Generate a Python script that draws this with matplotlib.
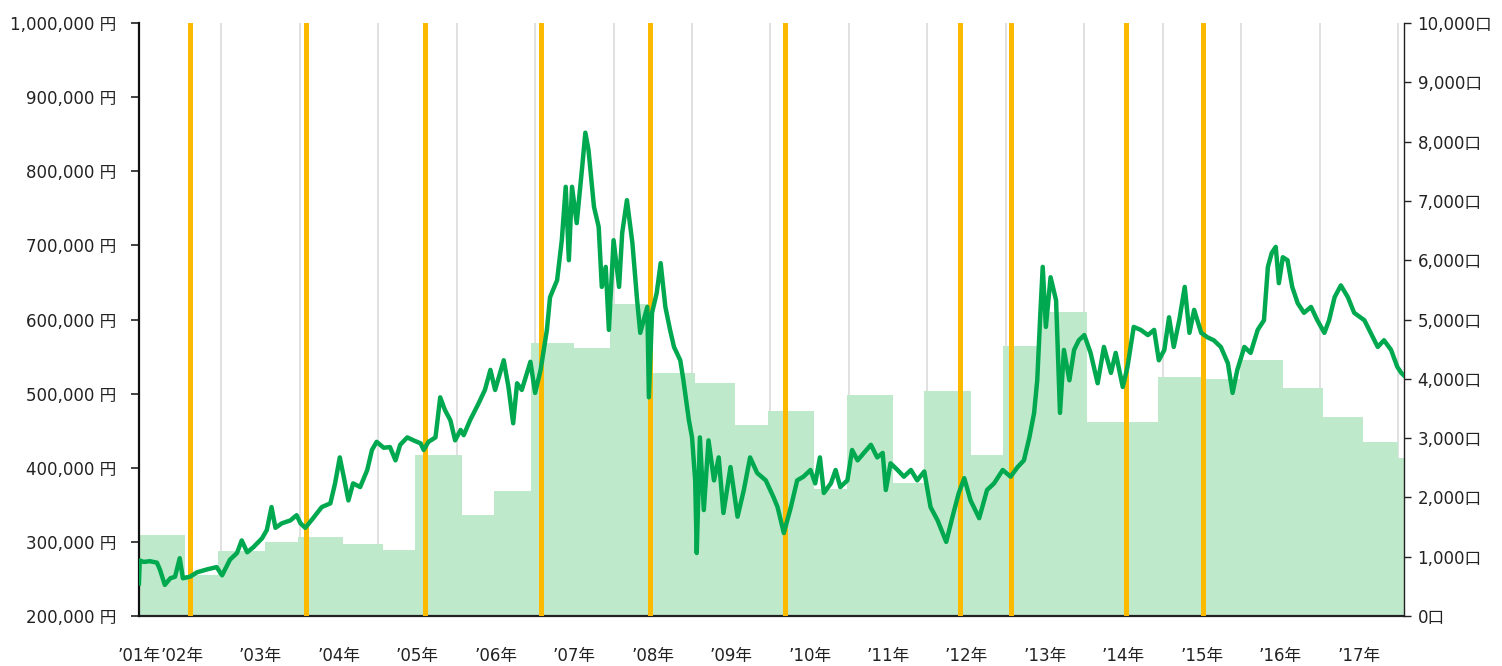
import matplotlib
matplotlib.use("Agg")
import matplotlib.pyplot as plt

plt.rcParams['font.family'] = ['DejaVu Sans', 'Noto Sans CJK JP']

# price line (year as decimal, price in thousand yen)
years = [2001.45, 2001.46, 2001.51, 2001.59, 2001.68, 2001.72, 2001.78, 2001.85, 2001.91, 2001.97,
         2002.01, 2002.10, 2002.19, 2002.32, 2002.44, 2002.51, 2002.61, 2002.70, 2002.76, 2002.83,
         2002.91, 2003.02, 2003.08, 2003.14, 2003.19, 2003.27, 2003.38, 2003.46, 2003.51, 2003.57,
         2003.67, 2003.78, 2003.89, 2003.95, 2004.01, 2004.06, 2004.12, 2004.18, 2004.27, 2004.36,
         2004.42, 2004.48, 2004.57, 2004.65, 2004.72, 2004.78, 2004.87, 2004.95, 2005.04, 2005.08,
         2005.14, 2005.23, 2005.29, 2005.35, 2005.42, 2005.48, 2005.55, 2005.59, 2005.67, 2005.78,
         2005.86, 2005.93, 2005.99, 2006.10, 2006.16, 2006.22, 2006.27, 2006.33, 2006.44, 2006.50,
         2006.57, 2006.65, 2006.69, 2006.78, 2006.84, 2006.89, 2006.93, 2006.97, 2007.03, 2007.10,
         2007.14, 2007.18, 2007.25, 2007.31, 2007.35, 2007.40, 2007.44, 2007.50, 2007.57, 2007.61,
         2007.67, 2007.74, 2007.80, 2007.84, 2007.93, 2007.95, 2007.99, 2008.05, 2008.10, 2008.16,
         2008.22, 2008.27, 2008.35, 2008.39, 2008.46, 2008.50, 2008.54, 2008.56, 2008.60, 2008.65,
         2008.71, 2008.78, 2008.84, 2008.90, 2008.99, 2009.08, 2009.16, 2009.24, 2009.33, 2009.44,
         2009.54, 2009.59, 2009.67, 2009.76, 2009.84, 2009.92, 2010.01, 2010.07, 2010.13, 2010.18,
         2010.27, 2010.33, 2010.39, 2010.48, 2010.54, 2010.61, 2010.69, 2010.78, 2010.86, 2010.93,
         2010.97, 2011.03, 2011.12, 2011.20, 2011.29, 2011.37, 2011.46, 2011.54, 2011.63, 2011.74,
         2011.82, 2011.90, 2011.97, 2012.05, 2012.16, 2012.26, 2012.35, 2012.46, 2012.56, 2012.65,
         2012.73, 2012.80, 2012.86, 2012.90, 2012.94, 2012.97, 2013.01, 2013.07, 2013.14, 2013.19,
         2013.24, 2013.31, 2013.37, 2013.43, 2013.50, 2013.58, 2013.67, 2013.75, 2013.84, 2013.90,
         2013.99, 2014.05, 2014.13, 2014.22, 2014.31, 2014.39, 2014.45, 2014.52, 2014.58, 2014.64,
         2014.71, 2014.78, 2014.84, 2014.90, 2014.99, 2015.07, 2015.15, 2015.24, 2015.33, 2015.39,
         2015.45, 2015.54, 2015.62, 2015.71, 2015.79, 2015.84, 2015.89, 2015.94, 2015.98, 2016.03,
         2016.09, 2016.15, 2016.22, 2016.30, 2016.39, 2016.47, 2016.56, 2016.62, 2016.69, 2016.77,
         2016.86, 2016.94, 2017.07, 2017.15, 2017.24, 2017.32, 2017.41, 2017.49, 2017.54, 2017.57]
price = [244, 275, 273, 274, 272, 262, 242, 251, 253, 278,
         251, 253, 259, 263, 266, 255, 276, 285, 302, 286,
         293, 305, 316, 347, 319, 325, 329, 336, 325, 319,
         332, 347, 352, 379, 414, 388, 356, 379, 374, 397,
         424, 435, 427, 428, 410, 431, 441, 437, 433, 424,
         435, 441, 495, 478, 464, 437, 451, 444, 464, 487,
         505, 532, 505, 545, 509, 460, 514, 505, 543, 501,
         532, 586, 630, 653, 707, 779, 680, 779, 730, 806,
         852, 829, 752, 725, 644, 671, 586, 707, 644, 717,
         761, 703, 626, 582, 617, 495, 609, 636, 676, 617,
         586, 563, 545, 518, 464, 441, 383, 285, 441, 343,
         437, 383, 414, 339, 401, 334, 370, 414, 393, 383,
         360, 347, 312, 347, 383, 388, 397, 379, 414, 366,
         379, 397, 374, 383, 424, 410, 420, 431, 414, 420,
         370, 406, 397, 388, 397, 383, 395, 347, 329, 300,
         334, 366, 386, 356, 332, 370, 379, 397, 388, 401,
         410, 441, 474, 518, 609, 671, 590, 657, 626, 474,
         559, 518, 559, 572, 579, 555, 514, 563, 528, 555,
         509, 536, 590, 586, 579, 586, 545, 559, 603, 563,
         599, 644, 582, 613, 582, 576, 572, 563, 541, 501,
         532, 563, 555, 586, 599, 671, 690, 698, 649, 684,
         680, 644, 622, 609, 617, 599, 582, 599, 630, 646,
         630, 609, 599, 582, 563, 572, 559, 536, 528, 525]

# holdings (units) per period
unit_edges = [2001.45, 2002.04, 2002.46, 2003.06, 2003.48, 2004.05, 2004.56, 2004.97, 2005.57,
              2005.98, 2006.45, 2007.00, 2007.46, 2007.99, 2008.54, 2009.05, 2009.47, 2010.05,
              2010.47, 2011.06, 2011.46, 2012.05, 2012.46, 2012.93, 2013.53, 2014.44, 2015.02,
              2015.49, 2016.03, 2016.54, 2017.05, 2017.50, 2017.57]
units = [1370, 700, 1100, 1250, 1330, 1215, 1110, 2720, 1700, 2110, 4600, 4520, 5260, 4100,
         3930, 3220, 3460, 2150, 3730, 2240, 3790, 2715, 4550, 5125, 3270, 4030, 3990, 4320,
         3845, 3355, 2935, 2665]

# event markers
events = [2002.10, 2003.58, 2005.09, 2006.57, 2007.96, 2009.69, 2011.92, 2012.57, 2014.03, 2015.01]

year_ticks = list(range(2002, 2018))
x_labels = ["’01年"] + ["’%02d年" % (y % 100) for y in year_ticks]
half_years = [2002 + 0.5 * i for i in range(32)]

fig = plt.figure(figsize=(15.02, 6.66), dpi=100)
ax = fig.add_axes([0.0925, 0.075, 0.842, 0.8905])
ax2 = ax.twinx()

ax.set_xlim(unit_edges[0], unit_edges[-1])
ax.set_ylim(0, 10000)
ax.stairs(units, unit_edges, fill=True, color='#BEEACB', lw=0, zorder=2)
for e in events:
    ax.axvline(e, color='#FBBA00', lw=3.6, zorder=3)

ax.set_xticks(half_years, minor=True)
ax.grid(axis='x', which='minor', color='#DCDCDC', lw=1.2, zorder=0)
ax.set_axisbelow(True)
ax.set_xticks([unit_edges[0]] + year_ticks)
ax.set_xticklabels(x_labels, fontsize=12, color='#222222')
ax.tick_params(axis='x', which='both', length=0, pad=22)

ax.yaxis.tick_right()
ax.set_yticks(range(0, 10001, 1000))
ax.set_yticklabels(["{:,}口".format(v) for v in range(0, 10001, 1000)], fontsize=12, color='#222222')
ax.tick_params(axis='y', length=5, width=1, pad=5, color='#222222')

ax2.set_ylim(200, 1000)
ax2.plot(years, price, color='#00A94F', lw=3.2, solid_joinstyle='round', zorder=5)
ax2.yaxis.tick_left()
ax2.set_yticks(range(200, 1001, 100))
ax2.set_yticklabels(["{:,} 円".format(v * 1000) for v in range(200, 1001, 100)], fontsize=12, color='#222222')
ax2.tick_params(axis='y', length=6, width=1.2, pad=10, color='#222222')

for a in (ax, ax2):
    a.spines['top'].set_visible(False)
ax2.spines['left'].set_visible(True)
ax2.spines['left'].set_linewidth(1.6)
ax2.spines['left'].set_color('#111111')
ax2.spines['right'].set_visible(False)
ax2.spines['bottom'].set_visible(False)
ax.spines['left'].set_visible(False)
ax.spines['right'].set_linewidth(1.0)
ax.spines['right'].set_color('#222222')
ax.spines['bottom'].set_linewidth(1.6)
ax.spines['bottom'].set_color('#222222')

fig.savefig('out.png', dpi=100)
